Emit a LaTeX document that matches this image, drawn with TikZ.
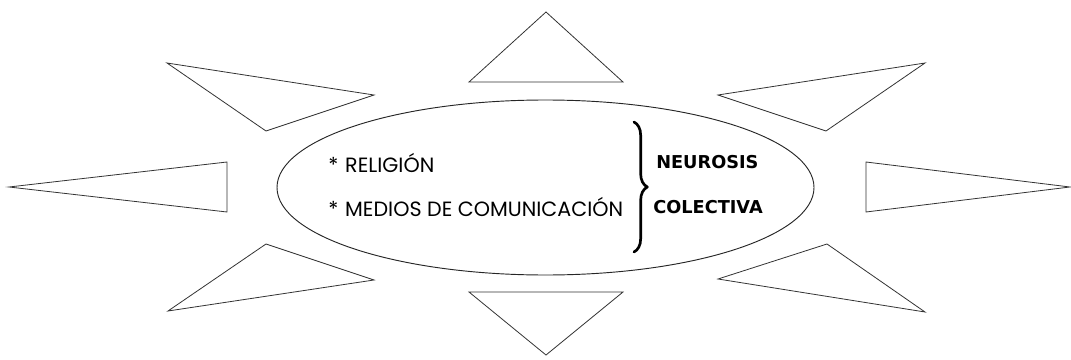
\documentclass[tikz,border=0pt]{standalone}
\usepackage{fontspec}
\setmainfont{Poppins}
\newfontfamily\boldsans{DejaVu Sans}
\usetikzlibrary{decorations.pathreplacing}
\tikzset{
	ray/.style={draw=black!80,line width=0.6pt,line join=miter},
	item/.style={anchor=west,inner sep=0pt,font=\fontsize{15.5}{18}\selectfont},
	result/.style={anchor=west,inner sep=0pt,font=\boldsans\bfseries\fontsize{13.3}{16}\selectfont},
}
\begin{document}
\begin{tikzpicture}[x=0.75pt,y=-0.75pt,line join=round,line cap=round]
		\useasboundingbox (0,0) rectangle (1071,360);
		% rays round the ellipse
		\draw[ray] (546,12)--(623,82)--(469,82)--cycle;
		\draw[ray] (546,355)--(623,292)--(469,292)--cycle;
		\draw[ray] (167,63)--(374,95)--(266,131)--cycle;
		\draw[ray] (925,63)--(718,95)--(826,131)--cycle;
		\draw[ray] (9,187)--(227,162)--(227,212)--cycle;
		\draw[ray] (1070,187)--(866,162)--(866,212)--cycle;
		\draw[ray] (168,311)--(266,244)--(374,280)--cycle;
		\draw[ray] (925,312)--(827,244)--(718,279)--cycle;
		% ellipse
		\draw[black!85,line width=0.7pt] (545.5,187.5) ellipse (268.5 and 87.5);
		\node[item] (rel) at (328,163) {*\,\,RELIGIÓN};
		\node[item] (med) at (328,207) {*\,\,MEDIOS DE COMUNICACIÓN};
		\coordinate (btop) at (634,122);
		\coordinate (bbot) at (634,252);
		\draw[line width=2pt,decorate,decoration={brace,amplitude=10pt}] (btop)--(bbot);
		\node[result] (neu) at (656,162) {NEUROSIS};
		\node[result] (col) at (653,207) {COLECTIVA};
\end{tikzpicture}
\end{document}
